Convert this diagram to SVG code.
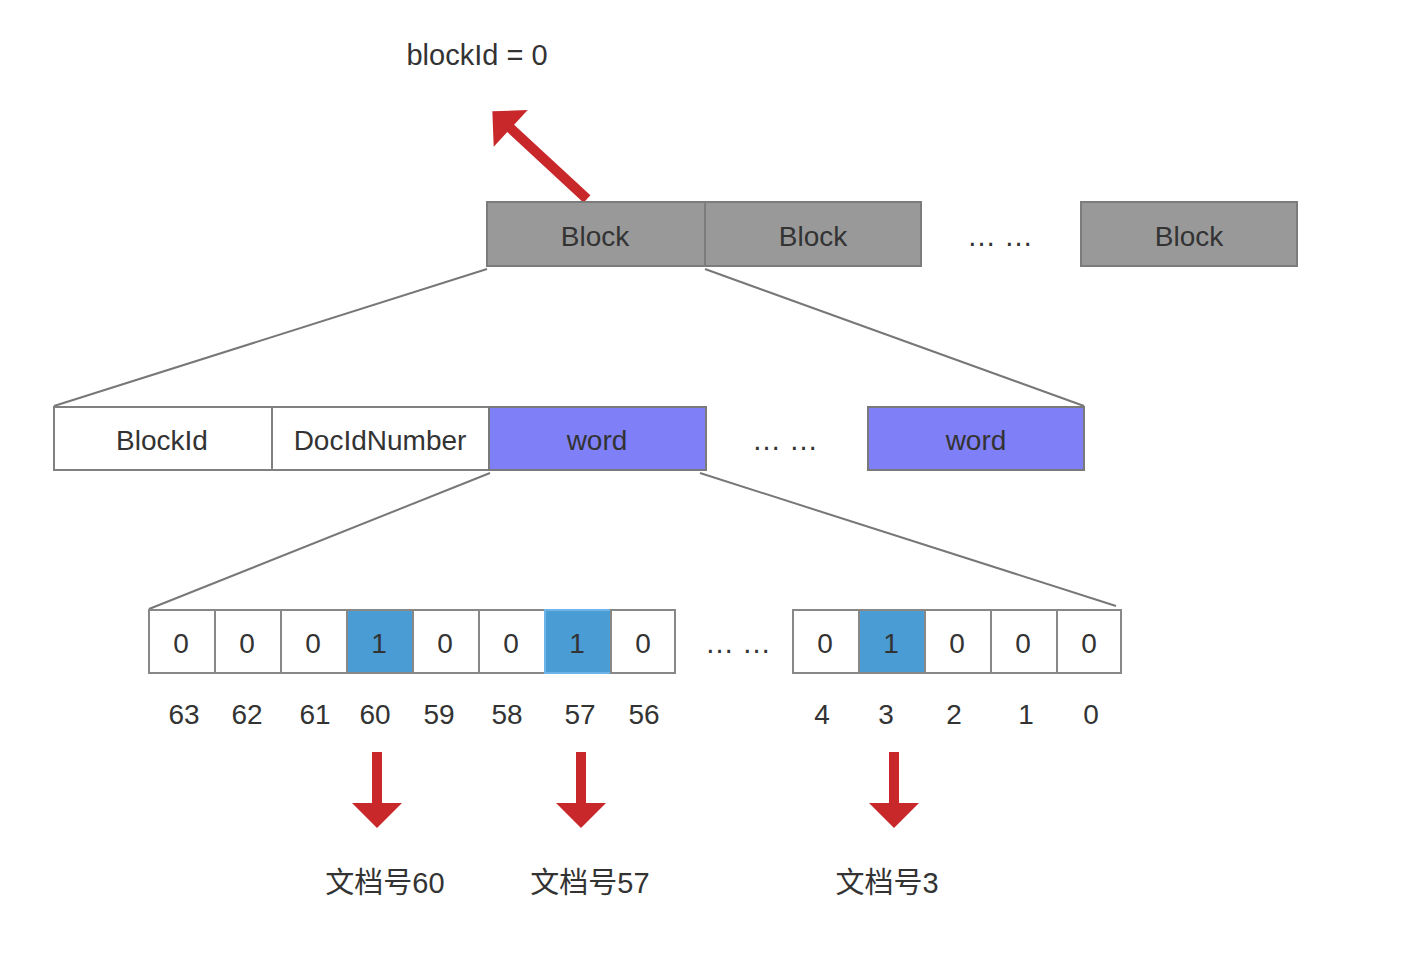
<svg xmlns="http://www.w3.org/2000/svg" width="1424" height="964" viewBox="0 0 1424 964">
<style>
text{font-family:"Liberation Sans","Noto Sans CJK SC",sans-serif;fill:#333;text-anchor:middle}
.t{font-size:28px}
.big{font-size:29px}
.cj{font-size:29px}
.gray{fill:#999999;stroke:#7c7c7c;stroke-width:2}
.white{fill:#ffffff;stroke:#808080;stroke-width:2}
.word{fill:#7f80f7;stroke:#7a7a7a;stroke-width:2}
.bit{fill:#ffffff;stroke:#888888;stroke-width:2}
.one{fill:#4a9cd4;stroke:#888888;stroke-width:2}
.conn{stroke:#777777;stroke-width:2;fill:none}
.red{fill:#c9282b}
</style>
<rect width="1424" height="964" fill="#ffffff"/>
<text class="big" x="477" y="65">blockId = 0</text>

<g id="connectors">
<line class="conn" x1="487" y1="269" x2="54" y2="406"/>
<line class="conn" x1="705" y1="269" x2="1084" y2="406"/>
<line class="conn" x1="490" y1="473" x2="149" y2="609"/>
<line class="conn" x1="700" y1="473" x2="1116" y2="606"/>
</g>

<g id="arrow-blockid">
<polygon class="red" transform="translate(587,199) rotate(-137.2)" points="0,-5 104,-5 104,-25 129,0 104,25 104,5 0,5"/>
</g>

<g id="block1"><rect class="gray" x="487" y="202" width="218" height="64"/><text class="t" x="595" y="246">Block</text></g>
<g id="block2"><rect class="gray" x="705" y="202" width="216" height="64"/><text class="t" x="813" y="246">Block</text></g>
<g id="dots1"><text class="big" x="1000" y="246">… …</text></g>
<g id="block3"><rect class="gray" x="1081" y="202" width="216" height="64"/><text class="t" x="1189" y="246">Block</text></g>

<g id="blockid"><rect class="white" x="54" y="407" width="218" height="63"/><text class="t" x="162" y="450">BlockId</text></g>
<g id="docidnumber"><rect class="white" x="272" y="407" width="217" height="63"/><text class="t" x="380" y="450">DocIdNumber</text></g>
<g id="word1"><rect class="word" x="489" y="407" width="217" height="63"/><text class="t" x="597" y="450">word</text></g>
<g id="dots2"><text class="big" x="785" y="450">… …</text></g>
<g id="word2"><rect class="word" x="868" y="407" width="216" height="63"/><text class="t" x="976" y="450">word</text></g>

<g id="bits-high">
<g id="bit63"><rect class="bit" x="149" y="610" width="66" height="63"/><text class="t" x="181" y="653">0</text></g>
<g id="bit62"><rect class="bit" x="215" y="610" width="66" height="63"/><text class="t" x="247" y="653">0</text></g>
<g id="bit61"><rect class="bit" x="281" y="610" width="66" height="63"/><text class="t" x="313" y="653">0</text></g>
<g id="bit60"><rect class="one" x="347" y="610" width="66" height="63"/><text class="t" x="379" y="653">1</text></g>
<g id="bit59"><rect class="bit" x="413" y="610" width="66" height="63"/><text class="t" x="445" y="653">0</text></g>
<g id="bit58"><rect class="bit" x="479" y="610" width="66" height="63"/><text class="t" x="511" y="653">0</text></g>
<g id="bit57"><rect class="one" style="stroke:#6fb4e8" x="545" y="610" width="66" height="63"/><text class="t" x="577" y="653">1</text></g>
<g id="bit56"><rect class="bit" x="611" y="610" width="64" height="63"/><text class="t" x="643" y="653">0</text></g>
</g>
<g id="dots3"><text class="big" x="738" y="653">… …</text></g>
<g id="bits-low">
<g id="bit4"><rect class="bit" x="793" y="610" width="66" height="63"/><text class="t" x="825" y="653">0</text></g>
<g id="bit3"><rect class="one" x="859" y="610" width="66" height="63"/><text class="t" x="891" y="653">1</text></g>
<g id="bit2"><rect class="bit" x="925" y="610" width="66" height="63"/><text class="t" x="957" y="653">0</text></g>
<g id="bit1"><rect class="bit" x="991" y="610" width="66" height="63"/><text class="t" x="1023" y="653">0</text></g>
<g id="bit0"><rect class="bit" x="1057" y="610" width="64" height="63"/><text class="t" x="1089" y="653">0</text></g>
</g>

<g id="bit-labels">
<text class="t" x="184" y="724">63</text>
<text class="t" x="247" y="724">62</text>
<text class="t" x="315" y="724">61</text>
<text class="t" x="375" y="724">60</text>
<text class="t" x="439" y="724">59</text>
<text class="t" x="507" y="724">58</text>
<text class="t" x="580" y="724">57</text>
<text class="t" x="644" y="724">56</text>
<text class="t" x="822" y="724">4</text>
<text class="t" x="886" y="724">3</text>
<text class="t" x="954" y="724">2</text>
<text class="t" x="1026" y="724">1</text>
<text class="t" x="1091" y="724">0</text>
</g>

<g id="down-arrows">
<polygon class="red" points="372,752 382,752 382,803 402,803 377,828 352,803 372,803"/>
<polygon class="red" points="576,752 586,752 586,803 606,803 581,828 556,803 576,803"/>
<polygon class="red" points="889,752 899,752 899,803 919,803 894,828 869,803 889,803"/>
</g>

<g id="doc-labels">
<text class="cj" x="385" y="893">文档号60</text>
<text class="cj" x="590" y="893">文档号57</text>
<text class="cj" x="887" y="893">文档号3</text>
</g>
</svg>
